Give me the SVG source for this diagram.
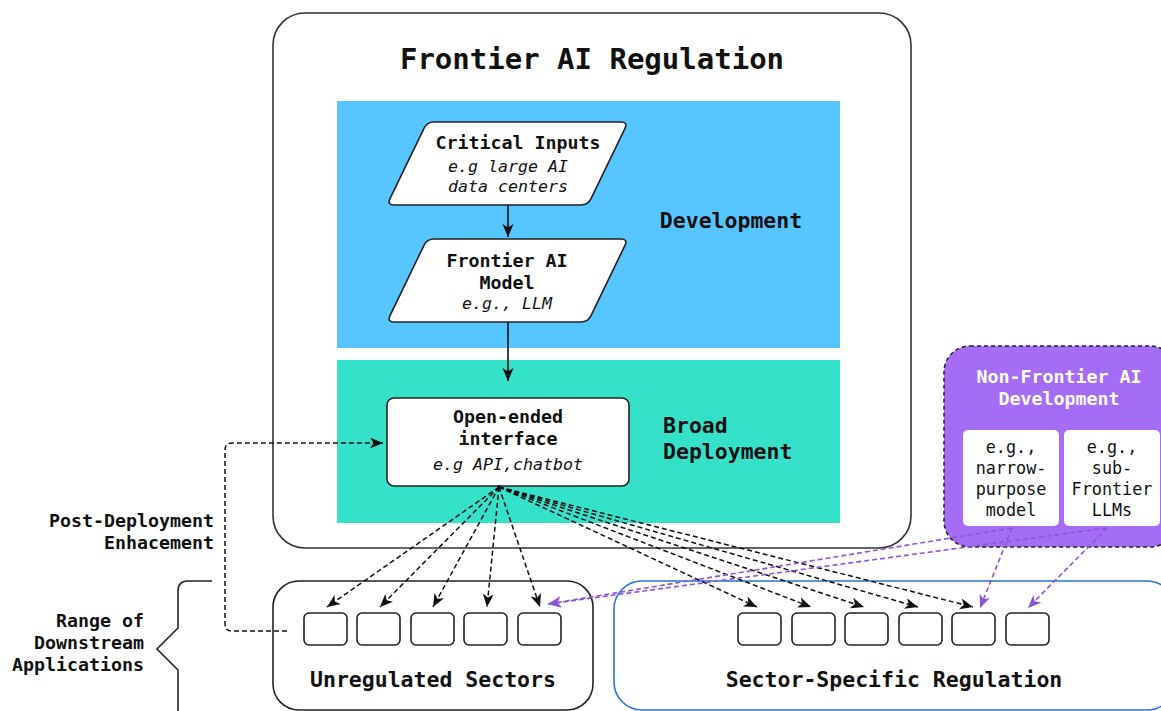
<svg xmlns="http://www.w3.org/2000/svg" width="1161" height="711" viewBox="0 0 1161 711">
<style>
  text { font-family: "DejaVu Sans Mono", "Liberation Mono", monospace; fill: #111; }
  .title { font-size: 29px; font-weight: bold; text-anchor: middle; }
  .h2 { font-size: 21.5px; font-weight: bold; }
  .h3 { font-size: 18.3px; font-weight: bold; text-anchor: middle; }
  .lbl { font-size: 18.3px; font-weight: bold; text-anchor: end; }
  .it { font-size: 16.6px; font-style: italic; text-anchor: middle; }
  .sm { font-size: 16.8px; text-anchor: middle; }
  .wh { fill: #ffffff; }
  .node { fill: #ffffff; stroke: #222; stroke-width: 1.6; }
  .app { fill: #ffffff; stroke: #222; stroke-width: 1.6; }
  .dash { fill: none; stroke: #111; stroke-width: 1.5; stroke-dasharray: 5 3; }
  .pdash { fill: none; stroke: #8C55D6; stroke-width: 1.6; stroke-dasharray: 5 3; }
  .solid { fill: none; stroke: #111; stroke-width: 1.6; }
</style>
<defs>
  <marker id="ah" markerUnits="userSpaceOnUse" markerWidth="14" markerHeight="12" refX="13" refY="5.5" orient="auto">
    <path d="M0,0 L13,5.5 L0,11 L3.5,5.5 Z" fill="#111"/>
  </marker>
  <marker id="ahp" markerUnits="userSpaceOnUse" markerWidth="14" markerHeight="12" refX="13" refY="5.5" orient="auto">
    <path d="M0,0 L13,5.5 L0,11 L3.5,5.5 Z" fill="#8C55D6"/>
  </marker>
  <path id="para" d="M434,122 H621 Q628,122 625,128.3 L591,198.7 Q588,205 581,205 H394 Q387,205 390,198.7 L424,128.3 Q427,122 434,122 Z"/>
</defs>

<g id="frontier-ai-regulation">
  <rect x="273" y="13" width="638" height="535" rx="32" fill="#ffffff" stroke="#333" stroke-width="1.6"/>
  <text class="title" x="592" y="69">Frontier AI Regulation</text>
</g>

<g id="development">
  <rect x="337" y="101" width="503" height="247" fill="#57C5FF"/>
  <text class="h2" x="731" y="228" text-anchor="middle">Development</text>
</g>

<g id="broad-deployment">
  <rect x="337" y="360" width="503" height="163" fill="#36E1CA"/>
  <text class="h2" x="663" y="433">Broad</text>
  <text class="h2" x="663" y="459">Deployment</text>
</g>

<g id="critical-inputs">
  <use href="#para" class="node"/>
  <text class="h3" x="518" y="149">Critical Inputs</text>
  <text class="it" x="508" y="172">e.g large AI</text>
  <text class="it" x="508" y="192">data centers</text>
</g>

<g id="frontier-ai-model">
  <use href="#para" class="node" transform="translate(0,117)"/>
  <text class="h3" x="507" y="267">Frontier AI</text>
  <text class="h3" x="507" y="289">Model</text>
  <text class="it" x="507" y="309">e.g., LLM</text>
</g>

<g id="open-ended-interface">
  <rect class="node" x="387" y="398" width="242" height="88" rx="7"/>
  <text class="h3" x="508" y="423">Open-ended</text>
  <text class="h3" x="508" y="445">interface</text>
  <text class="it" x="508" y="470">e.g API,chatbot</text>
</g>

<g id="non-frontier-ai-development">
  <rect x="944" y="346" width="232" height="201" rx="26" fill="#A56DF5" stroke="#222" stroke-width="1.5" stroke-dasharray="4 3"/>
  <text class="h3 wh" x="1059" y="383">Non-Frontier AI</text>
  <text class="h3 wh" x="1059" y="405">Development</text>
  <g id="narrow-purpose-model">
    <rect x="963" y="430" width="96" height="96" rx="5" fill="#ffffff"/>
    <text class="sm" x="1011" y="453">e.g.,</text>
    <text class="sm" x="1011" y="474">narrow-</text>
    <text class="sm" x="1011" y="495">purpose</text>
    <text class="sm" x="1011" y="516">model</text>
  </g>
  <g id="sub-frontier-llms">
    <rect x="1064" y="430" width="96" height="96" rx="5" fill="#ffffff"/>
    <text class="sm" x="1112" y="453">e.g.,</text>
    <text class="sm" x="1112" y="474">sub-</text>
    <text class="sm" x="1112" y="495">Frontier</text>
    <text class="sm" x="1112" y="516">LLMs</text>
  </g>
</g>

<g id="unregulated-sectors">
  <rect x="273" y="581" width="320" height="129" rx="26" fill="#ffffff" stroke="#222" stroke-width="1.6"/>
  <rect class="app" x="304" y="613" width="43" height="32" rx="5"/>
  <rect class="app" x="357" y="613" width="43" height="32" rx="5"/>
  <rect class="app" x="411" y="613" width="43" height="32" rx="5"/>
  <rect class="app" x="464" y="613" width="43" height="32" rx="5"/>
  <rect class="app" x="518" y="613" width="43" height="32" rx="5"/>
  <text class="h2" x="433" y="687" text-anchor="middle">Unregulated Sectors</text>
</g>

<g id="sector-specific-regulation">
  <rect x="614" y="581" width="561" height="129" rx="28" fill="#ffffff" stroke="#2D6FE0" stroke-width="1.6"/>
  <rect class="app" x="738" y="613" width="43" height="32" rx="5"/>
  <rect class="app" x="792" y="613" width="43" height="32" rx="5"/>
  <rect class="app" x="845" y="613" width="43" height="32" rx="5"/>
  <rect class="app" x="899" y="613" width="43" height="32" rx="5"/>
  <rect class="app" x="952" y="613" width="43" height="32" rx="5"/>
  <rect class="app" x="1006" y="613" width="43" height="32" rx="5"/>
  <text class="h2" x="894" y="687" text-anchor="middle">Sector-Specific Regulation</text>
</g>

<g id="labels">
  <text class="lbl" x="214" y="527">Post-Deployment</text>
  <text class="lbl" x="214" y="549">Enhacement</text>
  <text class="lbl" x="144" y="627">Range of</text>
  <text class="lbl" x="144" y="649">Downstream</text>
  <text class="lbl" x="144" y="671">Applications</text>
  <path d="M212,581 H188 Q178,581 178,591 V628 L157,649 L178,670 V712" fill="none" stroke="#222" stroke-width="1.6"/>
</g>

<g id="connectors">
  <path class="solid" d="M508,205 V237" marker-end="url(#ah)"/>
  <path class="solid" d="M508,322 V381" marker-end="url(#ah)"/>
  <path class="dash" d="M287,631 H232 Q225,631 225,624 V450 Q225,443 232,443 H383" marker-end="url(#ah)"/>
  <path class="dash" d="M499,487 L327,607" marker-end="url(#ah)"/>
  <path class="dash" d="M499,487 L380,607" marker-end="url(#ah)"/>
  <path class="dash" d="M499,487 L433,607" marker-end="url(#ah)"/>
  <path class="dash" d="M499,487 L487,607" marker-end="url(#ah)"/>
  <path class="dash" d="M499,487 L540,607" marker-end="url(#ah)"/>
  <path class="dash" d="M499,487 L757,607" marker-end="url(#ah)"/>
  <path class="dash" d="M499,487 L811,607" marker-end="url(#ah)"/>
  <path class="dash" d="M499,487 L864,607" marker-end="url(#ah)"/>
  <path class="dash" d="M499,487 L918,607" marker-end="url(#ah)"/>
  <path class="dash" d="M499,487 L973,607" marker-end="url(#ah)"/>
  <circle cx="499" cy="487" r="2" fill="#111"/>
  <path class="pdash" d="M1012,528 L980,608" marker-end="url(#ahp)"/>
  <path class="pdash" d="M1107,528 L1028,608" marker-end="url(#ahp)"/>
  <path class="pdash" d="M1012,528 L548,604" marker-end="url(#ahp)"/>
  <path class="pdash" d="M1107,528 L548,604" marker-end="url(#ahp)"/>
</g>
</svg>
